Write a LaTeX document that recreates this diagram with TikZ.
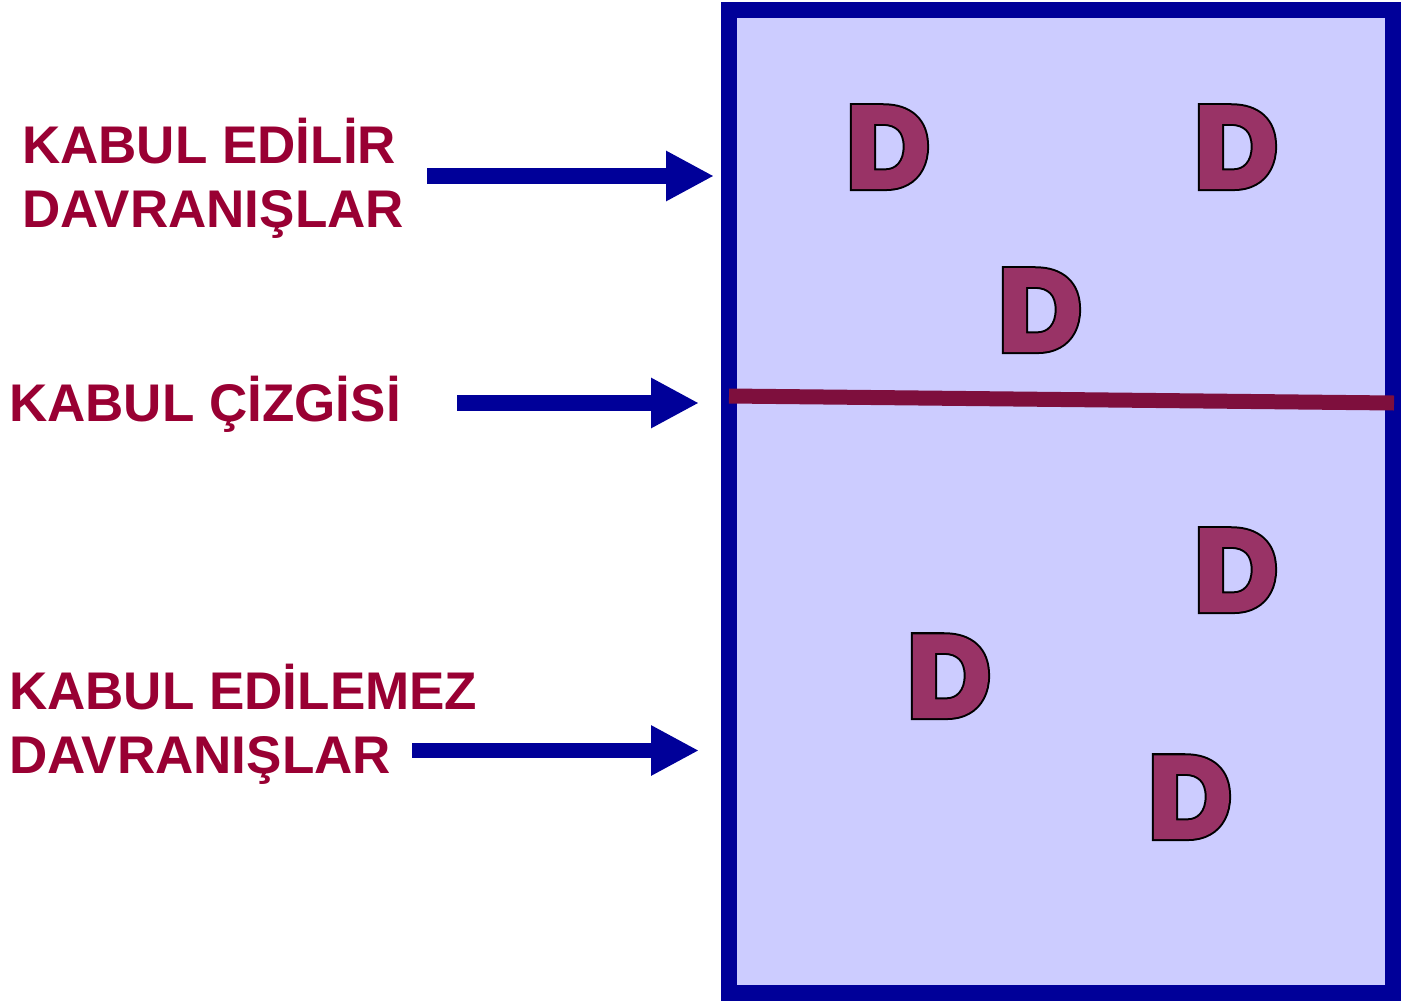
\documentclass[tikz,border=0pt]{standalone}
\usepackage{fontspec}
\setmainfont{Liberation Sans}
\usetikzlibrary{arrows.meta}
\definecolor{txtred}{HTML}{990033}
\definecolor{navy}{HTML}{000099}
\definecolor{boxfill}{HTML}{CCCCFF}
\definecolor{dfill}{HTML}{993366}
\definecolor{lineclr}{HTML}{7E0F3D}
\newcommand{\heavyD}{\rlap{\special{pdf:literal direct 2 Tr 10 w 0 0 0 RG}D}\special{pdf:literal direct 2 Tr 6 w 0.6 0.2 0.4 RG}D\special{pdf:literal direct 0 Tr}}
\begin{document}
\begin{tikzpicture}[x=1pt,y=-1pt,
  lbl/.style={anchor=base west,inner sep=0pt,text=txtred,font=\fontsize{53}{65}\selectfont\bfseries,align=left},
  dlet/.style={anchor=base,inner sep=0pt,text=dfill,font=\fontsize{113}{113}\selectfont\bfseries},
  arr/.style={navy,line width=15.5pt,-{Triangle[length=48pt,width=47pt]}}]
\useasboundingbox (0,0) rectangle (1404,1001);
% box
\draw[navy,fill=boxfill,line width=16pt] (729,10) rectangle (1393,993);
% acceptance line
\coordinate (lineL) at (729,396);
\coordinate (lineR) at (1394,403);
\draw[lineclr,line width=15pt] (lineL) -- (lineR);
% labels
\node[lbl] (t1) at (22,163) {KABUL EDİLİR};
\node[lbl] (t2) at (22,227) {DAVRANIŞLAR};
\node[lbl] (t3) at (9,421) {KABUL ÇİZGİSİ};
\node[lbl] (t4) at (9,709) {KABUL EDİLEMEZ};
\node[lbl] (t5) at (9,773) {DAVRANIŞLAR};
% arrows
\coordinate (a1s) at (427,176);
\coordinate (a1e) at (714,176);
\coordinate (a2s) at (457,403);
\coordinate (a2e) at (699,403);
\coordinate (a3s) at (412,750.5);
\coordinate (a3e) at (699,750.5);
\draw[arr] (a1s) -- (a1e);
\draw[arr] (a2s) -- (a2e);
\draw[arr] (a3s) -- (a3e);
% D letters
\node[dlet] (d1) at (888,186) {\heavyD};
\node[dlet] (d2) at (1236,186) {\heavyD};
\node[dlet] (d3) at (1040,349) {\heavyD};
\node[dlet] (d4) at (1236,609) {\heavyD};
\node[dlet] (d5) at (949,715) {\heavyD};
\node[dlet] (d6) at (1190,836) {\heavyD};
\end{tikzpicture}
\end{document}
